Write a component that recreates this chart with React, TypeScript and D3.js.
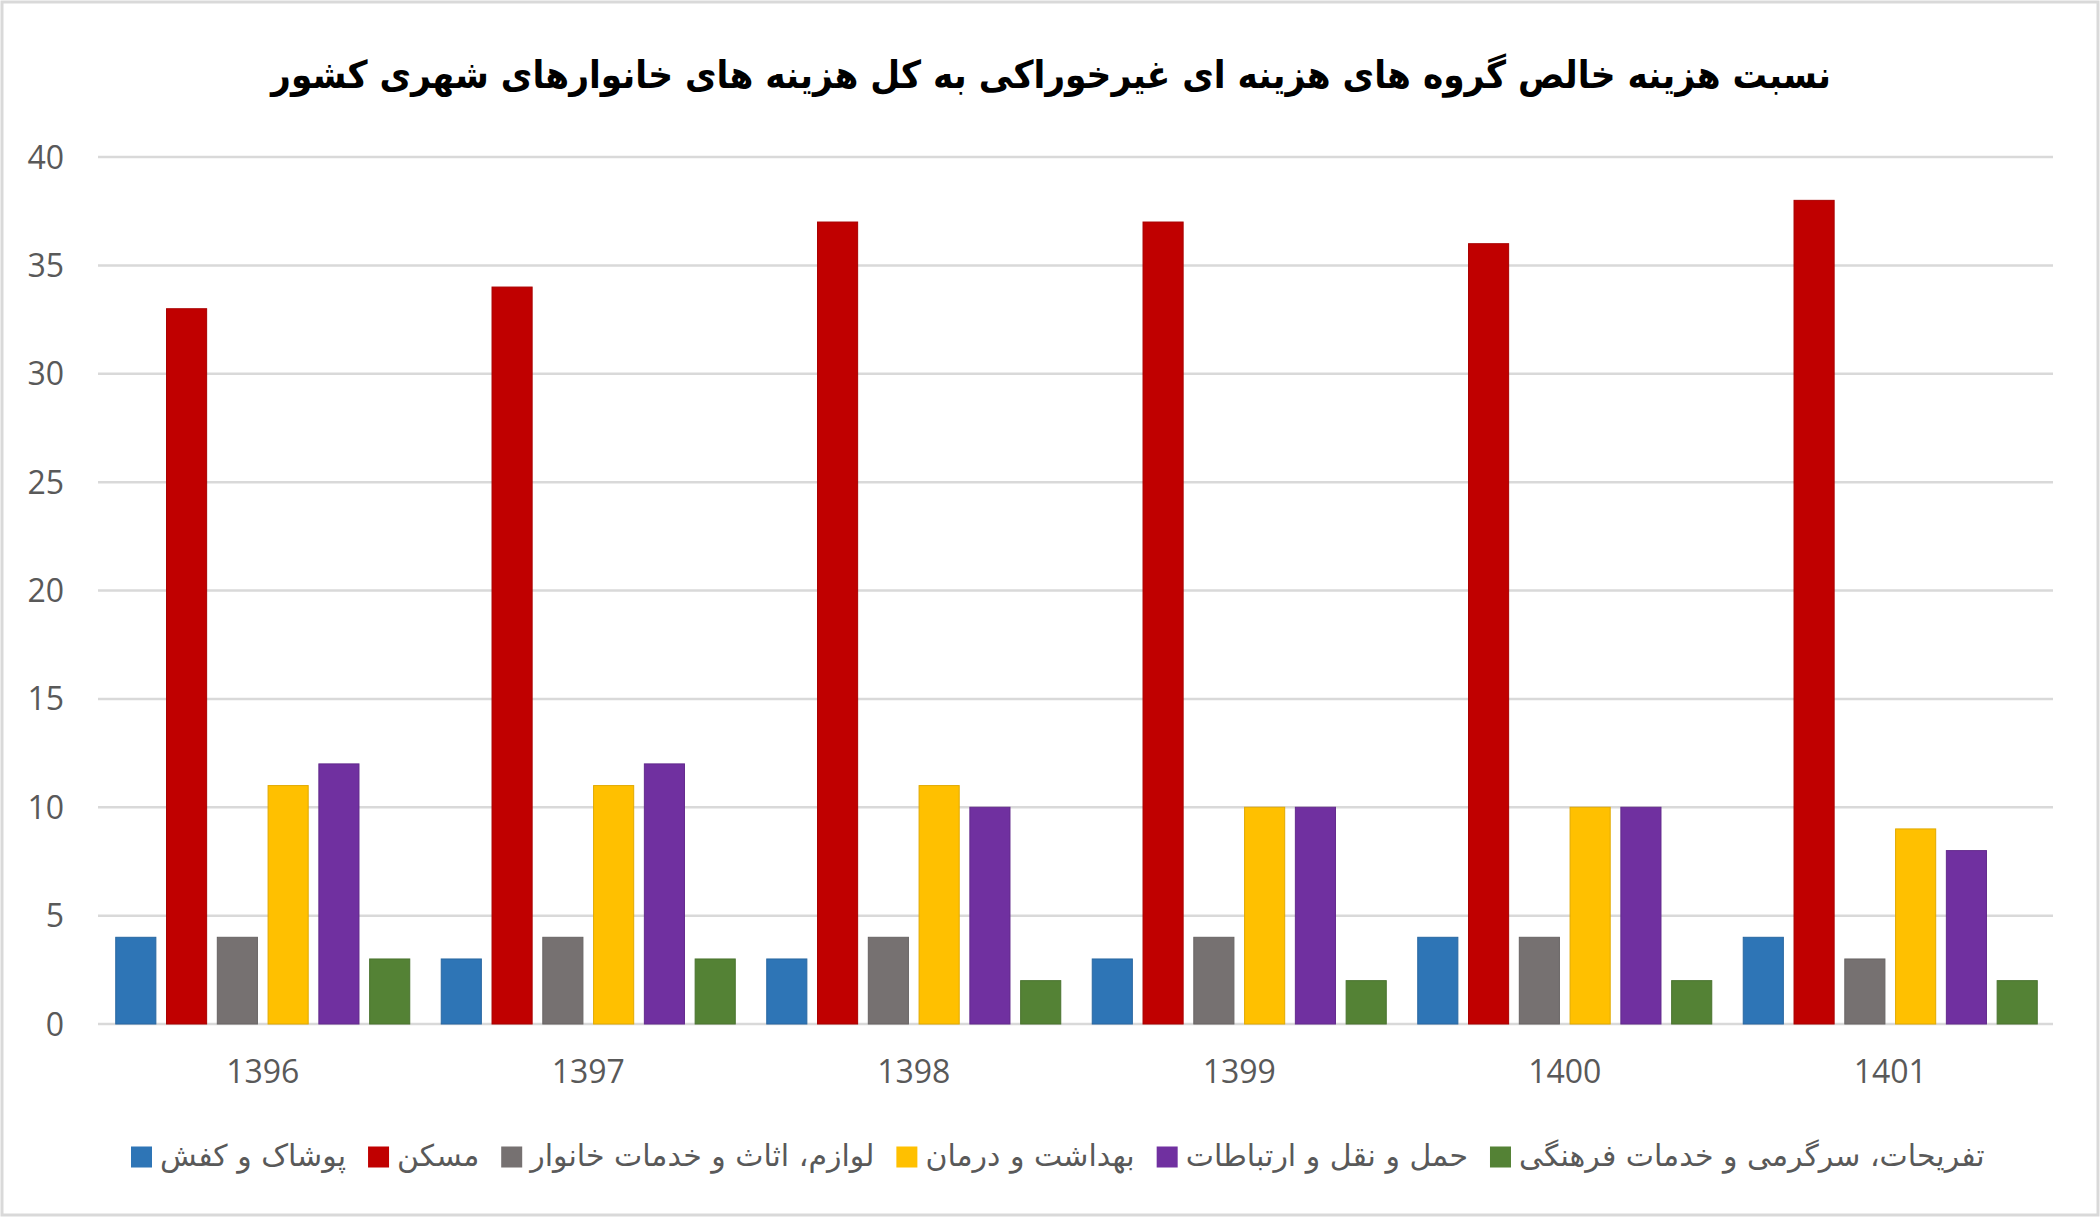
import { useEffect, useRef } from "react";
import * as d3 from "d3";

const years = ["1396", "1397", "1398", "1399", "1400", "1401"];
const seriesNames = [
  "پوشاک و کفش",
  "مسکن",
  "لوازم، اثاث و خدمات خانوار",
  "بهداشت و درمان",
  "حمل و نقل و ارتباطات",
  "تفریحات، سرگرمی و خدمات فرهنگی",
];
const seriesColors = ["#2E75B6", "#C00000", "#767171", "#FFC000", "#7030A0", "#548235"];

const clothing = [4, 3, 3, 3, 4, 4];
const housing = [33, 34, 37, 37, 36, 38];
const furniture = [4, 4, 4, 4, 4, 3];
const health = [11, 11, 11, 10, 10, 9];
const transport = [12, 12, 10, 10, 10, 8];
const recreation = [3, 3, 2, 2, 2, 2];

const yTicks = [0, 5, 10, 15, 20, 25, 30, 35, 40];
const chartTitle =
  "نسبت هزینه خالص گروه های هزینه ای غیرخوراکی به کل هزینه های خانوارهای شهری کشور";

const seriesValues = [clothing, housing, furniture, health, transport, recreation];

const W = 2100;
const H = 1218;

export default function App() {
  const svgRef = useRef<SVGSVGElement>(null);

  useEffect(() => {
    document.body.style.margin = "0";
    if (!svgRef.current) return;

    const svg = d3.select(svgRef.current);
    svg.selectAll("*").remove();

    const margin = { top: 157, right: 47, bottom: 194, left: 100 };
    const plotBottom = H - margin.bottom;

    // frame
    svg.append("rect")
      .attr("x", 2)
      .attr("y", 2)
      .attr("width", W - 4)
      .attr("height", H - 5)
      .attr("fill", "#fff")
      .attr("stroke", "#d9d9d9")
      .attr("stroke-width", 3);

    const x0 = d3.scaleBand()
      .domain(years)
      .range([margin.left, W - margin.right])
      .paddingInner(0)
      .paddingOuter(0);

    const x1 = d3.scaleBand()
      .domain(seriesNames)
      .range([0, x0.bandwidth()])
      .paddingInner(0.21)
      .paddingOuter(0.31);

    const y = d3.scaleLinear()
      .domain([0, 40])
      .range([plotBottom, margin.top]);

    // gridlines
    svg.append("g")
      .selectAll("line")
      .data(yTicks)
      .enter()
      .append("line")
      .attr("x1", margin.left - 2)
      .attr("x2", W - margin.right)
      .attr("y1", d => y(d))
      .attr("y2", d => y(d))
      .attr("stroke", "#d9d9d9")
      .attr("stroke-width", 2.5);

    // y tick labels
    svg.append("g")
      .selectAll("text")
      .data(yTicks)
      .enter()
      .append("text")
      .attr("x", 64)
      .attr("y", d => y(d))
      .attr("dy", "0.36em")
      .attr("text-anchor", "end")
      .style("font-family", "'Open Sans', sans-serif")
      .style("font-size", "32px")
      .style("fill", "#595959")
      .text(d => d);

    // bars
    const groups = svg.append("g")
      .selectAll("g")
      .data(years)
      .enter()
      .append("g")
      .attr("transform", d => `translate(${x0(d)},0)`);

    groups.selectAll("rect")
      .data((_, i) => seriesNames.map((name, s) => ({ name, s, value: seriesValues[s][i] })))
      .enter()
      .append("rect")
      .attr("x", d => x1(d.name) || 0)
      .attr("width", x1.bandwidth())
      .attr("y", d => y(d.value))
      .attr("height", d => plotBottom - y(d.value))
      .attr("fill", d => seriesColors[d.s])
      .attr("stroke", d => d3.color(seriesColors[d.s])!.darker(0.35).formatHex())
      .attr("stroke-width", 1);

    // x labels
    svg.append("g")
      .selectAll("text")
      .data(years)
      .enter()
      .append("text")
      .attr("x", d => (x0(d) || 0) + x0.bandwidth() / 2)
      .attr("y", 1083)
      .attr("text-anchor", "middle")
      .style("font-family", "'Open Sans', sans-serif")
      .style("font-size", "32px")
      .style("fill", "#595959")
      .text(d => d);

    // title, font size fitted to the reference width
    const titleText = svg.append("text")
      .attr("x", 1051)
      .attr("y", 88)
      .attr("text-anchor", "middle")
      .style("font-family", "'DejaVu Sans Condensed', 'DejaVu Sans', sans-serif")
      .style("font-weight", "700")
      .style("font-size", "40px")
      .style("fill", "#000")
      .text(chartTitle);
    const tw = (titleText.node() as SVGTextElement).getComputedTextLength();
    if (tw > 0) titleText.style("font-size", `${Math.min(50, (40 * 1560) / tw)}px`);

    // legend
    const legend = svg.append("g");
    const items = legend.selectAll("g")
      .data(seriesNames)
      .enter()
      .append("g");
    const labels = items.append("text")
      .attr("y", 1157)
      .attr("dy", "0.3em")
      .style("font-family", "'DejaVu Sans', sans-serif")
      .style("font-size", "28px")
      .style("fill", "#595959")
      .text(d => d);

    let total = 0;
    labels.each(function () {
      total += (this as SVGTextElement).getComputedTextLength();
    });
    const fs = total > 0 ? Math.max(18, Math.min(34, (28 * 1570) / total)) : 28;
    labels.style("font-size", `${fs}px`);

    const sq = 21;
    let cx = 131;
    items.each(function (_, i) {
      const g = d3.select(this);
      g.append("rect")
        .attr("x", cx)
        .attr("y", 1157 - sq / 2)
        .attr("width", sq)
        .attr("height", sq)
        .attr("fill", seriesColors[i]);
      const t = g.select<SVGTextElement>("text").attr("x", cx + sq + 8);
      cx += sq + 8 + t.node()!.getComputedTextLength() + 22;
    });
  }, []);

  return (
    <div style={{ position: "absolute", left: 0, top: 0 }}>
      <svg ref={svgRef} width={W} height={H} style={{ display: "block" }} />
    </div>
  );
}
